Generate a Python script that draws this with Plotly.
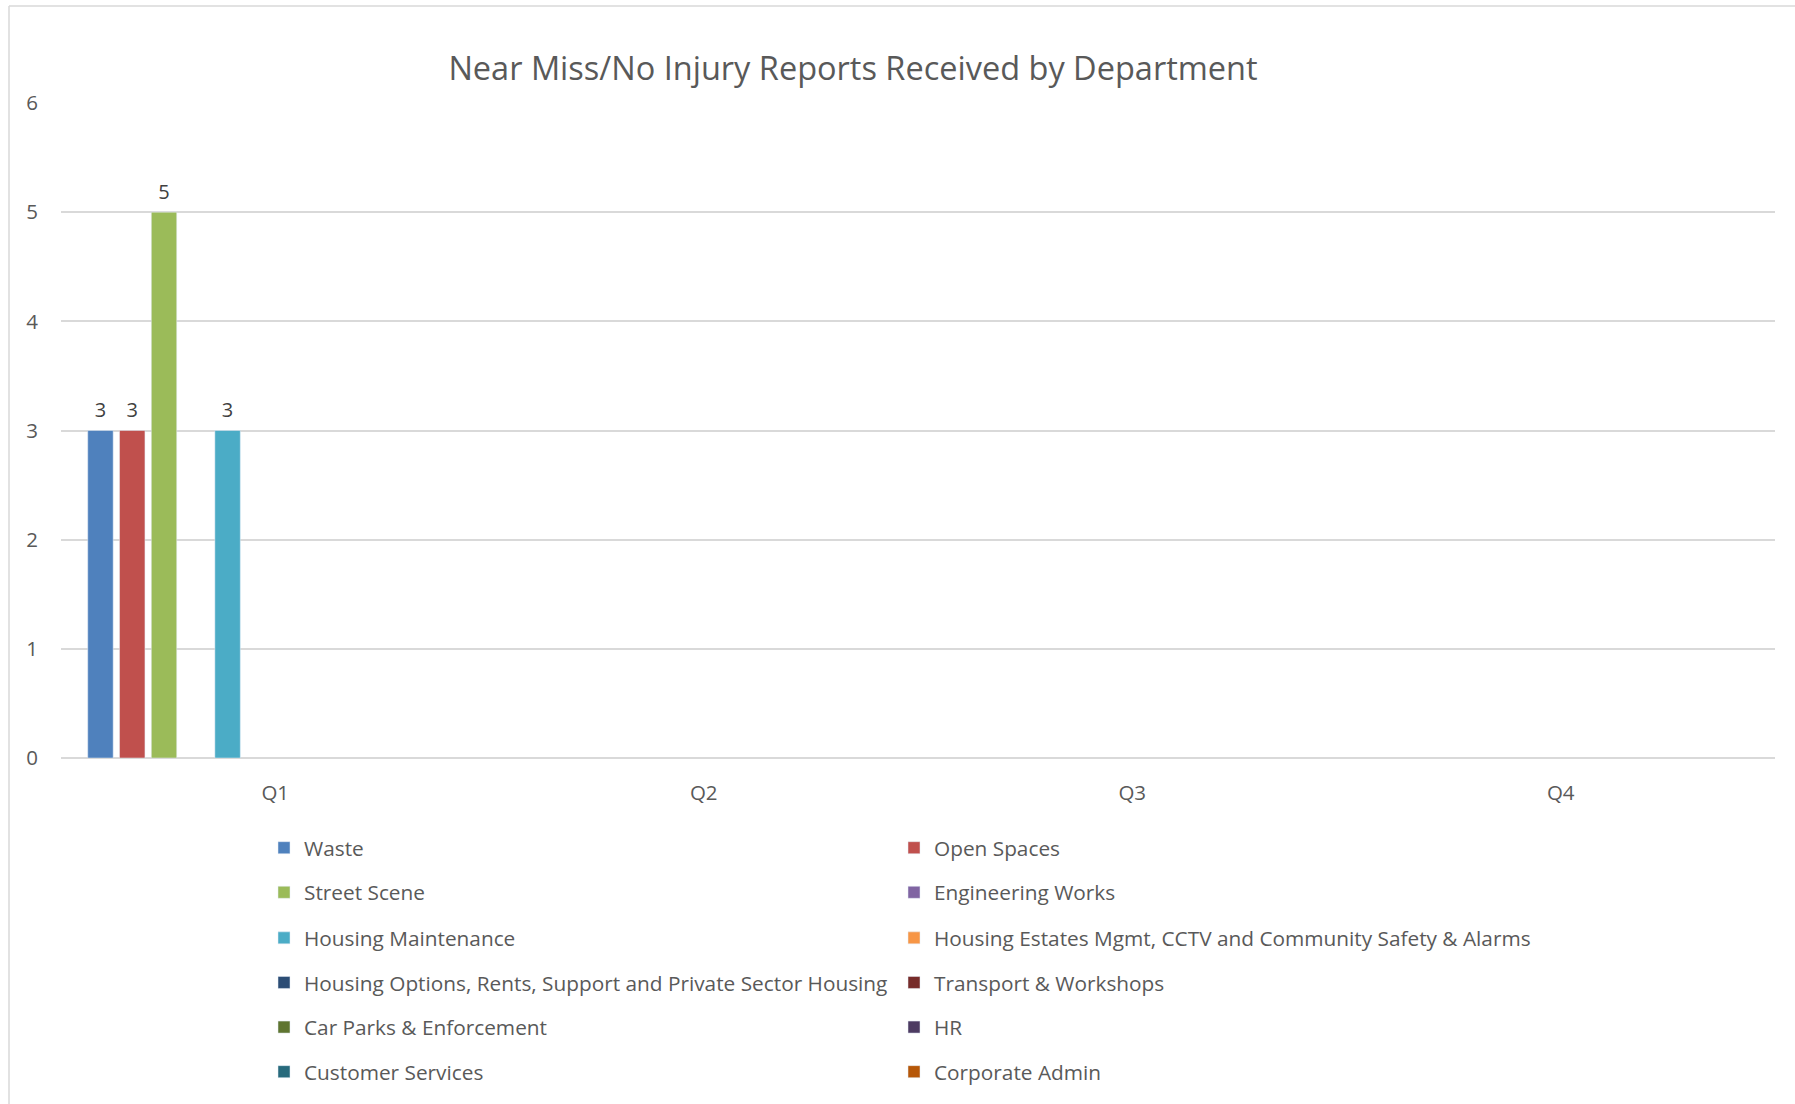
import plotly.graph_objects as go

quarters = ["Q1", "Q2", "Q3", "Q4"]
departments = [
    "Waste", "Open Spaces", "Street Scene", "Engineering Works",
    "Housing Maintenance", "Housing Estates Mgmt, CCTV and Community Safety & Alarms",
    "Housing Options, Rents, Support and Private Sector Housing", "Transport & Workshops",
    "Car Parks & Enforcement", "HR", "Customer Services", "Corporate Admin",
]
waste = [3, None, None, None]
open_spaces = [3, None, None, None]
street_scene = [5, None, None, None]
engineering_works = [None, None, None, None]
housing_maintenance = [3, None, None, None]
housing_estates = [None, None, None, None]
housing_options = [None, None, None, None]
transport = [None, None, None, None]
car_parks = [None, None, None, None]
hr = [None, None, None, None]
customer_services = [None, None, None, None]
corporate_admin = [None, None, None, None]
series_values = [waste, open_spaces, street_scene, engineering_works, housing_maintenance,
                 housing_estates, housing_options, transport, car_parks, hr,
                 customer_services, corporate_admin]
colors = ["#4F81BD", "#C0504D", "#9BBB59", "#8064A2", "#4BACC6", "#F79646",
          "#2C4D75", "#772C2A", "#5F7530", "#4D3B62", "#276A7C", "#B65708"]

W, H = 1795, 1104
L, R, T, B = 61, 20, 103, 340
pw, ph = W - L - R, H - T - B
FONT = "Open Sans"
TXT = "#595959"

fig = go.Figure()
row_y = [855, 900, 946, 991, 1036, 1081]
col_x = [264, 894]
for i, (name, vals, col) in enumerate(zip(departments, series_values, colors)):
    lg = "legend" if i == 0 else f"legend{i+1}"
    fig.add_trace(go.Bar(
        x=quarters, y=vals, name=name, marker_color=col,
        legend=lg, showlegend=True, hoverinfo="skip",
    ))
    r, c = divmod(i, 2)
    fig.layout[lg] = dict(
        x=(col_x[c] - L) / pw, xanchor="left",
        y=(H - B - row_y[r]) / ph, yanchor="middle",
        font=dict(family=FONT, size=20.8, color=TXT),
        bgcolor="rgba(0,0,0,0)", borderwidth=0, visible=True,
    )

# data labels (grouped scatter text aligned with the bars)
for name, vals in zip(departments, series_values):
    fig.add_trace(go.Scatter(
        x=quarters, y=vals, mode="markers+text", text=vals,
        textposition="top center", cliponaxis=False,
        marker=dict(size=12, opacity=0),
        textfont=dict(family=FONT, size=20, color="#404040"),
        showlegend=False, hoverinfo="skip",
    ))

fig.update_layout(
    width=W, height=H, showlegend=True,
    margin=dict(l=L, r=R, t=T, b=B),
    paper_bgcolor="white", plot_bgcolor="white",
    barmode="group", bargap=0.11, bargroupgap=0.2,
    scattermode="group", scattergap=0.11,
    title=dict(text="Near Miss/No Injury Reports Received by Department",
               x=853 / W, xanchor="center", xref="container",
               y=1 - 69 / H, yanchor="middle", yref="container",
               font=dict(family=FONT, size=32.5, color=TXT)),
    xaxis=dict(showgrid=False, showline=False, zeroline=False, ticks="",
               tickfont=dict(family=FONT, size=20.5, color=TXT),
               ticklabelstandoff=20),
    yaxis=dict(range=[0, 6], dtick=1, showgrid=True, gridcolor="#D9D9D9", gridwidth=1.5,
               zeroline=True, zerolinecolor="#D9D9D9", zerolinewidth=1.5,
               showline=False, ticks="", ticklabelstandoff=22,
               tickfont=dict(family=FONT, size=20.5, color=TXT)),
)

# chart area frame (left and top edges visible)
fx = (9 - L) / pw
fy = (H - B - 5) / ph
fig.add_shape(type="line", xref="paper", yref="paper", x0=fx, x1=fx, y0=fy, y1=-1,
              line=dict(color="#D9D9D9", width=1.5))
fig.add_shape(type="line", xref="paper", yref="paper", x0=fx, x1=1.2, y0=fy, y1=fy,
              line=dict(color="#D9D9D9", width=1.5))

fig.write_html("out.html", config={"displayModeBar": False},
               post_script="document.body.style.margin='0px';")
